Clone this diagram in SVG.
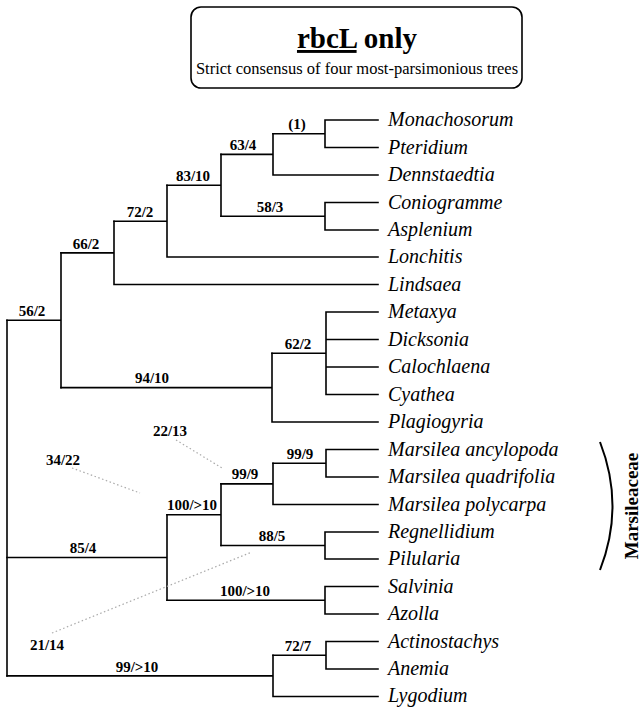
<svg xmlns="http://www.w3.org/2000/svg" width="643" height="708" viewBox="0 0 643 708">
<style>
.br{fill:none;stroke:#000;stroke-width:1.6;stroke-linecap:square}
.tx{font-family:"Liberation Serif","Times New Roman",serif;font-style:italic;font-size:20px;fill:#000}
.lb{font-family:"Liberation Serif","Times New Roman",serif;font-weight:bold;font-size:15px;fill:#000;text-anchor:middle}
.dt{fill:none;stroke:#aaa;stroke-width:1.2;stroke-dasharray:1.5 2.5}
</style>
<rect width="643" height="708" fill="#fff"/>
<g id="title">
<rect x="191" y="7" width="331" height="81" rx="10" fill="none" stroke="#000" stroke-width="1.6"/>
<text x="357" y="48" text-anchor="middle" font-family="Liberation Serif,Times New Roman,serif" font-weight="bold" font-size="29"><tspan text-decoration="underline">rbcL</tspan> only</text>
<text x="357" y="74" text-anchor="middle" font-family="Liberation Serif,Times New Roman,serif" font-size="16.5">Strict consensus of four most-parsimonious trees</text>
</g>
<g id="connectors">
<path class="br" d="M325 120V147.5M273 133.75H325M325 120H378M325 147.5H378"/>
<path class="br" d="M273 133.75V175M221 154.4H273M273 175H378"/>
<path class="br" d="M325 202.5V230M221 216.25H325M325 202.5H378M325 230H378"/>
<path class="br" d="M221 154.4V216.25M167 185.3H221"/>
<path class="br" d="M167 185.3V257M114 221.2H167M167 257H378"/>
<path class="br" d="M114 221.2V284.5M61 252.9H114M114 284.5H378"/>
<path class="br" d="M326 312V394.5M272 353.25H326M326 312H378M326 339.5H378M326 367H378M326 394.5H378"/>
<path class="br" d="M272 353.25V422M61 387.6H272M272 422H378"/>
<path class="br" d="M61 252.9V387.6M7 320.25H61"/>
<path class="br" d="M326 449.5V477M273 463.25H326M326 449.5H378M326 477H378"/>
<path class="br" d="M273 463.25V504.5M221 483.9H273M273 504.5H378"/>
<path class="br" d="M325 532V559M221 545.5H325M325 532H378M325 559H378"/>
<path class="br" d="M221 483.9V545.5M167 514.7H221"/>
<path class="br" d="M325 586.5V614M167 600.25H325M325 586.5H378M325 614H378"/>
<path class="br" d="M167 514.7V600.25M7 557.5H167"/>
<path class="br" d="M326 641.5V669M273 655.25H326M326 641.5H378M326 669H378"/>
<path class="br" d="M273 655.25V696.5M7 675.9H273M273 696.5H378"/>
<path class="br" d="M7 320.25V675.9"/>
<path class="dt" d="M176 440L222 468"/>
<path class="dt" d="M72 468L140 493"/>
<path class="dt" d="M52 633L252 552"/>
</g>
<g id="labels">
<text class="lb" x="297" y="129">(1)</text>
<text class="lb" x="243" y="150">63/4</text>
<text class="lb" x="193" y="181">83/10</text>
<text class="lb" x="270" y="212">58/3</text>
<text class="lb" x="140" y="217">72/2</text>
<text class="lb" x="86" y="249">66/2</text>
<text class="lb" x="32" y="316">56/2</text>
<text class="lb" x="298" y="349">62/2</text>
<text class="lb" x="152" y="383">94/10</text>
<text class="lb" x="170" y="436">22/13</text>
<text class="lb" x="63" y="465">34/22</text>
<text class="lb" x="300" y="459">99/9</text>
<text class="lb" x="245" y="479">99/9</text>
<text class="lb" x="192" y="510">100/&gt;10</text>
<text class="lb" x="272" y="541">88/5</text>
<text class="lb" x="83" y="553">85/4</text>
<text class="lb" x="245" y="596">100/&gt;10</text>
<text class="lb" x="47" y="650">21/14</text>
<text class="lb" x="298" y="651">72/7</text>
<text class="lb" x="137" y="672">99/&gt;10</text>
</g>
<g id="taxa">
<text class="tx" x="388" y="126">Monachosorum</text>
<text class="tx" x="388" y="153.5">Pteridium</text>
<text class="tx" x="388" y="181">Dennstaedtia</text>
<text class="tx" x="388" y="208.5">Coniogramme</text>
<text class="tx" x="388" y="236">Asplenium</text>
<text class="tx" x="388" y="263">Lonchitis</text>
<text class="tx" x="388" y="290.5">Lindsaea</text>
<text class="tx" x="388" y="318">Metaxya</text>
<text class="tx" x="388" y="345.5">Dicksonia</text>
<text class="tx" x="388" y="373">Calochlaena</text>
<text class="tx" x="388" y="400.5">Cyathea</text>
<text class="tx" x="388" y="428">Plagiogyria</text>
<text class="tx" x="388" y="455.5">Marsilea ancylopoda</text>
<text class="tx" x="388" y="483">Marsilea quadrifolia</text>
<text class="tx" x="388" y="510.5">Marsilea polycarpa</text>
<text class="tx" x="388" y="538">Regnellidium</text>
<text class="tx" x="388" y="565">Pilularia</text>
<text class="tx" x="388" y="592.5">Salvinia</text>
<text class="tx" x="388" y="620">Azolla</text>
<text class="tx" x="388" y="647.5">Actinostachys</text>
<text class="tx" x="388" y="675">Anemia</text>
<text class="tx" x="388" y="702">Lygodium</text>
</g>
<g id="marsileaceae">
<path d="M600 442Q625 506 600 570" fill="none" stroke="#000" stroke-width="2"/>
<text transform="translate(638,506) rotate(-90)" text-anchor="middle" font-family="Liberation Serif,Times New Roman,serif" font-weight="bold" font-size="19">Marsileaceae</text>
</g>
</svg>
